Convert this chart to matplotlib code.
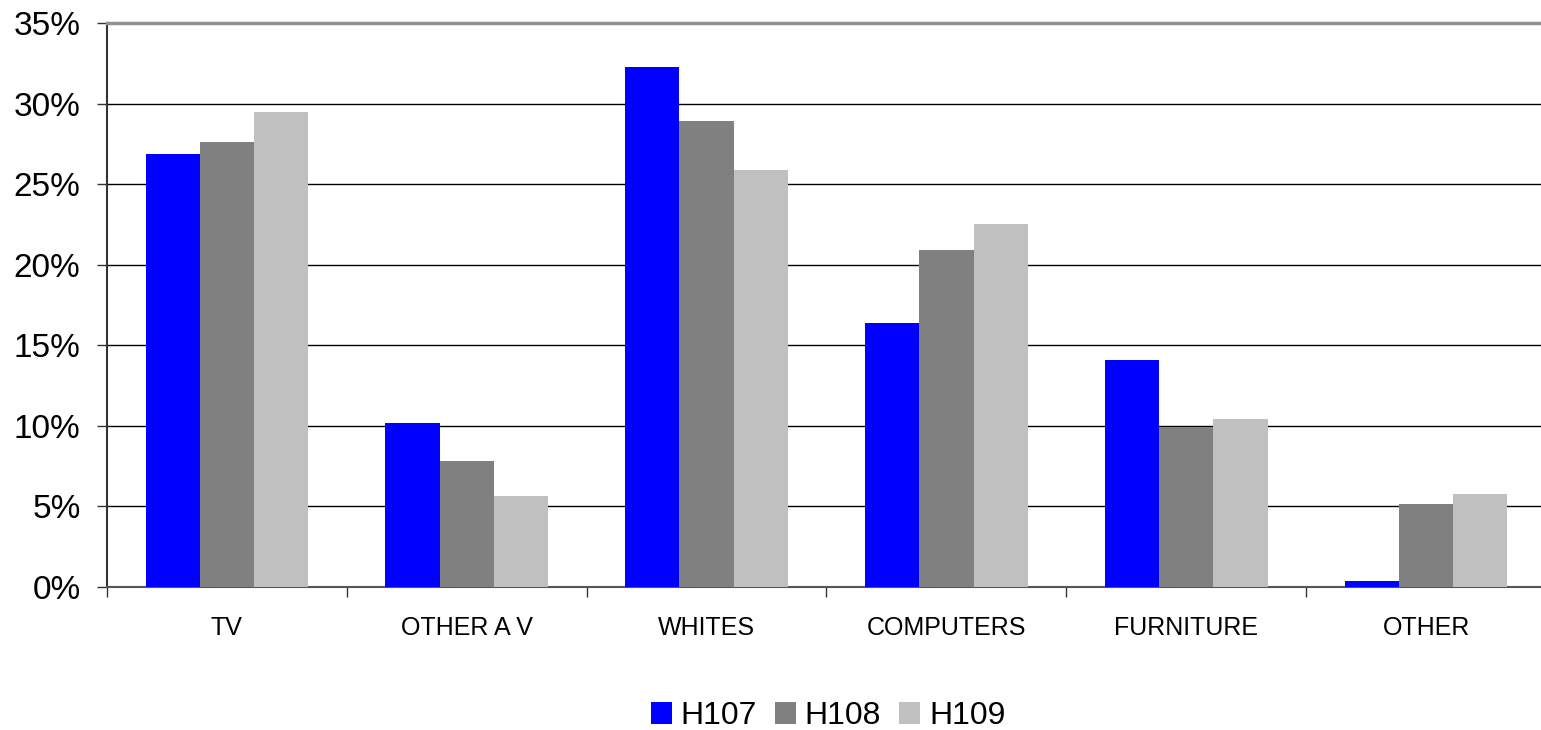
import matplotlib
matplotlib.use("Agg")
import matplotlib.pyplot as plt
import numpy as np
from matplotlib.ticker import FixedLocator, FuncFormatter

categories = ["TV", "OTHER A V", "WHITES", "COMPUTERS", "FURNITURE", "OTHER"]
series_names = ["H107", "H108", "H109"]
h107 = [26.9, 10.2, 32.3, 16.4, 14.1, 0.35]
h108 = [27.6, 7.8, 28.9, 20.9, 9.9, 5.15]
h109 = [29.5, 5.65, 25.9, 22.5, 10.4, 5.8]
colors = ["#0000FF", "#808080", "#C0C0C0"]
yticks = [0, 5, 10, 15, 20, 25, 30, 35]

plt.rcParams['font.family'] = ['Liberation Sans', 'DejaVu Sans']

fig = plt.figure(figsize=(15.41, 7.30), dpi=100)
ax = fig.add_axes([107/1541, 1-587/730, (1546-107)/1541, (587-23)/730])

x = np.arange(len(categories))
w = 0.226
for i, (vals, name, c) in enumerate(zip([h107, h108, h109], series_names, colors)):
    ax.bar(x + (i-1)*w, vals, width=w, color=c, label=name, zorder=3, linewidth=0)

ax.set_xlim(-0.5, len(categories)-0.5)
ax.set_ylim(0, 35)
ax.set_yticks(yticks)
ax.yaxis.set_major_formatter(FuncFormatter(lambda v, p: f"{int(v)}%"))
ax.tick_params(axis='y', labelsize=24, length=7, width=1, direction='out', pad=12, color='#333333')
ax.grid(axis='y', color='black', linewidth=1, zorder=0)

ax.set_xticks(x)
ax.set_xticklabels(categories)
ax.xaxis.set_minor_locator(FixedLocator(np.arange(-0.5, len(categories), 1.0)))
ax.tick_params(axis='x', which='major', length=0, labelsize=18, pad=21)
ax.tick_params(axis='x', which='minor', length=7, width=1, direction='out', color='#333333')

ax.spines['top'].set_color('#909090')
ax.spines['top'].set_linewidth(2.5)
ax.spines['right'].set_visible(False)
ax.spines['left'].set_color('#333333')
ax.spines['left'].set_linewidth(1.5)
ax.spines['bottom'].set_color('#555555')
ax.spines['bottom'].set_linewidth(1.5)
ax.set_axisbelow(True)

leg = fig.legend(loc='center', bbox_to_anchor=(828/1541, 1-716/730), ncol=3, frameon=False,
                 fontsize=23, handlelength=0.66, handleheight=0.66, handletextpad=0.28,
                 columnspacing=0.56)

fig.savefig("out.png", dpi=100)
